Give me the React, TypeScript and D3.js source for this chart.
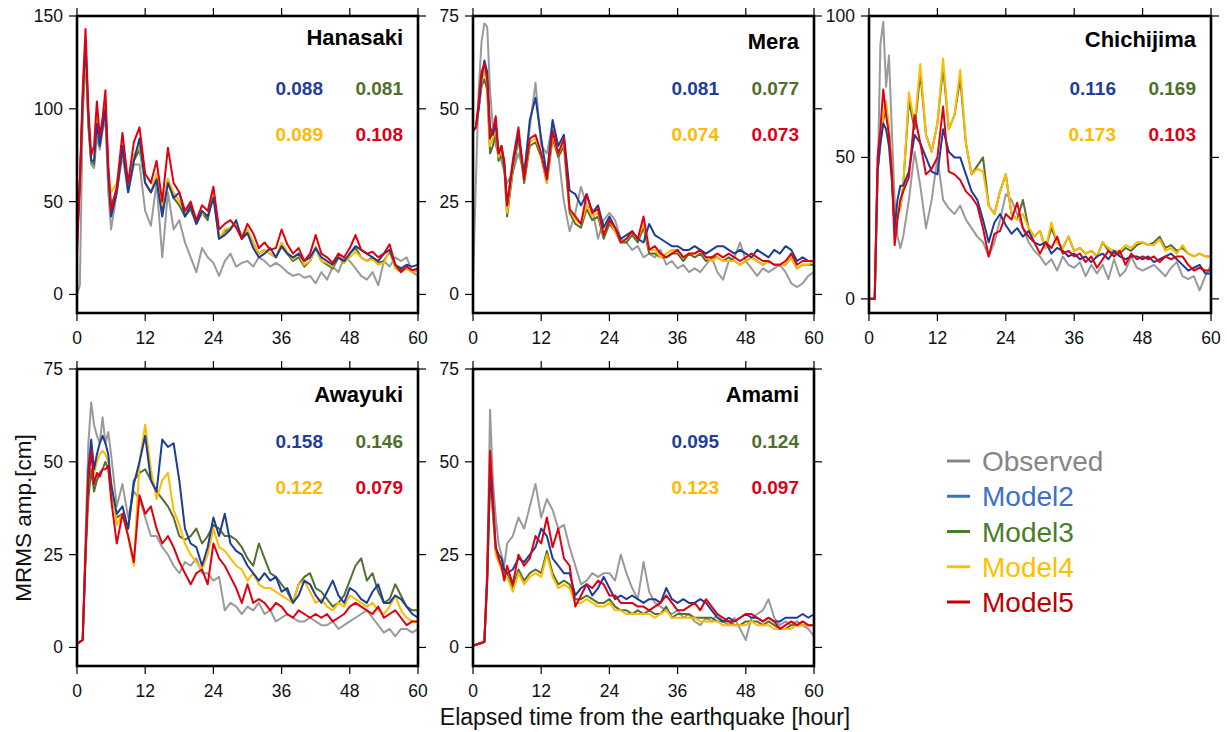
import React from "react";
import * as d3 from "d3";

// ---------- DATA ----------
const hours = [0, 0.5, 1, 1.5, 2, 2.5, 3, 3.5, 4, 4.5, 5, 5.5, 6,
  7, 8, 9, 10, 11, 12, 13, 14, 15, 16, 17, 18, 19, 20, 21, 22, 23, 24, 25, 26, 27, 28, 29, 30,
  31, 32, 33, 34, 35, 36, 37, 38, 39, 40, 41, 42, 43, 44, 45, 46, 47, 48, 49, 50, 51, 52, 53, 54,
  55, 56, 57, 58, 59, 60];

const xTicks = [0, 12, 24, 36, 48, 60];
const seriesNames = ["Observed", "Model2", "Model3", "Model4", "Model5"];
const stationNames = ["Hanasaki", "Mera", "Chichijima", "Awayuki", "Amami"];

// scores: [Model2, Model3, Model4, Model5]
const hanasakiScores = ["0.088", "0.081", "0.089", "0.108"];
const meraScores = ["0.081", "0.077", "0.074", "0.073"];
const chichijimaScores = ["0.116", "0.169", "0.173", "0.103"];
const awayukiScores = ["0.158", "0.146", "0.122", "0.079"];
const amamiScores = ["0.095", "0.124", "0.123", "0.097"];

const hanasakiTicks = [0, 50, 100, 150];
const meraTicks = [0, 25, 50, 75];
const chichijimaTicks = [0, 50, 100];
const awayukiTicks = [0, 25, 50, 75];
const amamiTicks = [0, 25, 50, 75];

// Hanasaki
const hanasakiObserved = [0, 5, 95, 130, 90, 70, 68, 85, 78, 88, 95, 55, 35,
  55, 75, 55, 70, 70, 45, 37, 60, 20, 55, 35, 40, 28, 20, 12, 25, 20, 17, 10, 18,
  22, 15, 17, 18, 15, 20, 18, 15, 17, 15, 12, 10, 11, 9, 10, 6, 12, 8, 15, 12,
  20, 18, 14, 10, 8, 12, 5, 18, 15, 20, 18, 20, 12, 10];
const hanasakiModel2 = [30, 60, 105, 137, 95, 72, 72, 92, 80, 90, 100, 65, 42,
  55, 80, 55, 72, 84, 60, 55, 62, 42, 60, 52, 55, 42, 48, 38, 45, 42, 52, 30, 32,
  35, 40, 30, 33, 25, 20, 22, 25, 20, 26, 22, 20, 22, 18, 20, 25, 20, 18, 16, 20,
  18, 22, 26, 24, 22, 20, 18, 22, 24, 16, 14, 16, 15, 16];
const hanasakiModel3 = [28, 60, 100, 132, 92, 72, 70, 95, 82, 92, 100, 65, 48,
  56, 78, 58, 72, 78, 60, 55, 62, 45, 62, 52, 48, 42, 46, 38, 44, 40, 55, 30, 34,
  36, 38, 30, 34, 28, 22, 24, 22, 20, 26, 22, 18, 20, 15, 18, 25, 18, 16, 14, 20,
  17, 22, 25, 20, 18, 20, 17, 18, 23, 15, 13, 14, 12, 13];
const hanasakiModel4 = [30, 60, 105, 130, 95, 72, 72, 95, 82, 92, 102, 66, 55,
  60, 80, 58, 75, 80, 60, 55, 65, 48, 62, 55, 50, 45, 48, 40, 44, 42, 56, 30, 35,
  36, 38, 32, 35, 28, 22, 24, 22, 20, 28, 23, 19, 22, 16, 18, 26, 18, 17, 15, 22,
  17, 20, 23, 20, 18, 19, 16, 17, 24, 14, 12, 14, 12, 13];
const hanasakiModel5 = [22, 60, 110, 143, 100, 75, 80, 104, 85, 95, 110, 70, 45,
  58, 87, 60, 82, 90, 65, 60, 72, 50, 79, 60, 55, 45, 50, 40, 48, 45, 58, 35, 38,
  40, 36, 30, 38, 33, 25, 28, 24, 25, 35, 27, 22, 25, 18, 22, 32, 22, 20, 17, 22,
  20, 25, 32, 24, 22, 23, 20, 22, 27, 16, 12, 15, 13, 14];

// Mera
const meraObserved = [3, 30, 55, 68, 73, 72, 55, 45, 40, 38, 36, 33, 30,
  33, 38, 33, 45, 57, 40, 38, 46, 38, 25, 17, 22, 29, 24, 23, 15, 20, 22, 20, 15,
  14, 12, 13, 10, 11, 10, 12, 8, 9, 7, 8, 6, 7, 6, 8, 10, 6, 4, 9, 10,
  14, 9, 7, 5, 7, 6, 7, 8, 6, 3, 2, 3, 5, 6];
const meraModel2 = [44, 45, 50, 58, 63, 60, 45, 43, 46, 38, 40, 35, 24,
  35, 43, 32, 47, 53, 42, 32, 47, 40, 43, 28, 27, 24, 27, 22, 24, 18, 21, 18, 15,
  16, 17, 15, 14, 19, 16, 15, 14, 13, 13, 12, 12, 13, 12, 11, 12, 13, 13, 12, 11,
  12, 11, 10, 12, 11, 10, 12, 11, 13, 12, 9, 10, 9, 9];
const meraModel3 = [44, 45, 50, 56, 58, 55, 38, 40, 44, 36, 38, 34, 21,
  33, 42, 30, 40, 41, 37, 30, 42, 37, 40, 22, 19, 18, 23, 20, 21, 15, 19, 17, 14,
  14, 16, 14, 18, 11, 11, 10, 10, 11, 11, 9, 11, 10, 11, 9, 10, 10, 9, 10, 9,
  8, 9, 10, 9, 8, 9, 8, 8, 8, 10, 7, 8, 8, 8];
const meraModel4 = [44, 45, 51, 57, 60, 57, 40, 42, 45, 37, 39, 35, 22,
  34, 43, 31, 41, 42, 38, 30, 43, 38, 41, 23, 20, 19, 24, 21, 22, 16, 20, 17, 14,
  15, 17, 15, 19, 12, 12, 10, 11, 12, 12, 10, 11, 11, 12, 10, 9, 10, 9, 9, 9,
  8, 9, 10, 9, 8, 9, 8, 8, 8, 10, 7, 8, 8, 9];
const meraModel5 = [44, 45, 52, 60, 62, 58, 42, 44, 48, 38, 40, 36, 24,
  36, 45, 31, 42, 43, 38, 31, 44, 38, 42, 23, 21, 19, 27, 22, 23, 16, 20, 18, 14,
  15, 17, 15, 21, 12, 13, 11, 10, 11, 12, 10, 11, 11, 12, 10, 10, 11, 10, 11, 10,
  9, 10, 11, 10, 9, 9, 8, 8, 9, 11, 8, 9, 9, 9];

// Chichijima
const chichijimaObserved = [0, 0, 0, 40, 90, 98, 75, 86, 60, 35, 22, 18, 22,
  35, 52, 40, 25, 35, 50, 35, 32, 30, 33, 28, 25, 22, 20, 15, 20, 28, 37, 35, 30,
  25, 20, 17, 15, 12, 14, 10, 15, 12, 11, 13, 8, 12, 9, 12, 7, 14, 8, 10, 15,
  11, 10, 11, 12, 10, 8, 11, 13, 8, 7, 8, 3, 8, 12];
const chichijimaModel2 = [0, 0, 0, 45, 55, 62, 60, 54, 42, 25, 35, 40, 40,
  45, 58, 55, 50, 45, 44, 60, 52, 50, 50, 44, 38, 35, 28, 20, 27, 30, 26, 23, 25,
  22, 24, 20, 19, 20, 16, 18, 17, 15, 16, 14, 15, 13, 15, 16, 14, 17, 15, 14, 15,
  15, 14, 15, 13, 14, 15, 16, 14, 12, 10, 11, 12, 9, 9];
const chichijimaModel3 = [0, 0, 0, 45, 55, 63, 68, 60, 45, 24, 30, 32, 40,
  70, 60, 80, 58, 52, 62, 82, 60, 65, 78, 55, 44, 47, 50, 33, 30, 38, 44, 30, 28,
  35, 25, 22, 24, 18, 25, 20, 18, 22, 17, 18, 16, 17, 15, 20, 17, 16, 16, 18, 17,
  19, 20, 19, 20, 22, 18, 19, 17, 18, 16, 15, 16, 15, 15];
const chichijimaModel4 = [0, 0, 0, 45, 56, 65, 70, 60, 45, 25, 30, 32, 40,
  73, 62, 83, 58, 52, 62, 85, 60, 65, 81, 55, 44, 46, 45, 33, 30, 38, 44, 30, 28,
  30, 25, 22, 24, 18, 27, 20, 18, 22, 17, 18, 16, 17, 15, 20, 18, 17, 17, 19, 18,
  20, 20, 19, 19, 21, 17, 18, 16, 19, 16, 15, 16, 15, 15];
const chichijimaModel5 = [0, 0, 0, 50, 60, 74, 65, 58, 45, 19, 28, 35, 38,
  43, 65, 55, 44, 46, 50, 68, 45, 44, 42, 38, 36, 33, 25, 15, 23, 24, 30, 28, 34,
  25, 22, 20, 16, 20, 18, 22, 16, 17, 15, 16, 13, 15, 11, 14, 17, 15, 17, 12, 16,
  14, 15, 14, 15, 13, 15, 14, 15, 15, 12, 10, 11, 10, 10];

// Awayuki
const awayukiObserved = [1, 1.5, 2, 30, 55, 66, 60, 57, 55, 62, 55, 58, 52,
  38, 44, 35, 42, 40, 35, 30, 30, 27, 25, 22, 20, 23, 22, 24, 20, 20, 18, 19, 10,
  12, 11, 9, 11, 10, 12, 9, 10, 7, 8, 9, 8, 7, 7, 8, 7, 6, 6, 7, 5,
  6, 7, 8, 9, 10, 8, 6, 4, 5, 3, 5, 5, 4, 5];
const awayukiModel2 = [1, 1.5, 2, 25, 48, 56, 48, 52, 55, 57, 55, 52, 44,
  36, 38, 32, 44, 50, 57, 45, 42, 56, 54, 55, 45, 32, 28, 27, 22, 27, 35, 30, 36,
  28, 26, 25, 22, 20, 18, 20, 18, 19, 15, 16, 12, 14, 18, 17, 14, 12, 15, 18, 14,
  12, 16, 15, 13, 12, 15, 17, 12, 12, 14, 13, 11, 9, 8];
const awayukiModel3 = [1, 1.5, 2, 25, 40, 48, 42, 45, 47, 48, 50, 48, 42,
  35, 36, 32, 45, 47, 48, 45, 42, 40, 38, 35, 30, 29, 30, 32, 28, 30, 33, 32, 30,
  30, 29, 27, 24, 22, 28, 24, 20, 19, 17, 15, 12, 17, 19, 20, 16, 15, 13, 11, 12,
  14, 18, 22, 24, 18, 20, 15, 12, 13, 17, 14, 11, 10, 10];
const awayukiModel4 = [1, 1.5, 2, 25, 45, 52, 47, 50, 52, 53, 52, 50, 45,
  33, 36, 30, 22, 50, 60, 48, 40, 45, 47, 37, 33, 28, 25, 23, 21, 25, 32, 27, 26,
  24, 22, 21, 18, 20, 17, 16, 16, 15, 14, 13, 12, 17, 18, 15, 12, 13, 11, 10, 12,
  11, 14, 13, 12, 11, 12, 10, 9, 11, 14, 10, 8, 7, 7];
const awayukiModel5 = [1, 1.5, 2, 25, 45, 53, 44, 47, 46, 48, 48, 49, 40,
  28, 36, 30, 23, 41, 36, 38, 32, 28, 30, 27, 23, 20, 17, 20, 21, 17, 28, 24, 22,
  19, 16, 12, 17, 12, 13, 12, 10, 12, 11, 9, 8, 10, 9, 8, 9, 8, 9, 7, 8,
  9, 11, 12, 11, 10, 9, 11, 8, 9, 10, 8, 6, 7, 7];

// Amami
const amamiObserved = [0.5, 0.8, 1, 1.3, 1.8, 20, 64, 45, 35, 28, 25, 22, 28,
  30, 35, 32, 38, 44, 35, 40, 37, 32, 33, 27, 22, 17, 18, 20, 19, 20, 20, 18, 25,
  20, 16, 13, 23, 15, 12, 11, 10, 9, 10, 8, 9, 7, 6, 8, 7, 9, 7, 6, 8,
  5, 2, 8, 9, 10, 13, 8, 6, 7, 6, 7, 6, 5, 3];
const amamiModel2 = [0.5, 0.7, 1, 1.2, 1.5, 18, 47, 38, 27, 25, 24, 21, 20,
  21, 24, 23, 25, 27, 32, 30, 24, 22, 20, 20, 14, 16, 17, 14, 16, 19, 16, 13, 14,
  13, 14, 13, 12, 13, 13, 12, 16, 13, 12, 13, 12, 12, 13, 12, 10, 8, 7, 8, 7,
  8, 9, 8, 8, 7, 8, 7, 7, 8, 8, 8, 9, 8, 9];
const amamiModel3 = [0.5, 0.7, 1, 1.2, 1.5, 18, 46, 36, 26, 24, 22, 20, 20,
  16, 21, 18, 20, 21, 20, 26, 20, 17, 18, 17, 13, 13, 14, 13, 12, 12, 13, 11, 10,
  10, 9, 10, 9, 10, 9, 9, 11, 8, 9, 9, 9, 8, 8, 8, 8, 7, 7, 7, 6,
  6, 7, 7, 7, 6, 7, 6, 5, 5, 6, 6, 6, 6, 6];
const amamiModel4 = [0.5, 0.7, 1, 1.2, 1.5, 18, 47, 37, 25, 23, 21, 19, 19,
  15, 20, 17, 19, 20, 19, 25, 19, 16, 17, 16, 12, 12, 13, 12, 11, 11, 12, 10, 10,
  9, 9, 9, 9, 9, 8, 9, 10, 8, 8, 8, 8, 8, 7, 7, 7, 7, 6, 6, 6,
  6, 6, 7, 6, 6, 6, 5, 5, 5, 5, 6, 6, 6, 6];
const amamiModel5 = [0.5, 0.7, 1, 1.2, 1.5, 20, 53, 40, 27, 24, 22, 18, 22,
  17, 25, 22, 24, 30, 28, 35, 27, 32, 24, 22, 11, 14, 17, 16, 18, 17, 14, 14, 12,
  12, 12, 11, 11, 10, 11, 12, 14, 12, 10, 10, 11, 12, 10, 13, 11, 9, 8, 7, 7,
  8, 9, 9, 8, 7, 8, 7, 5, 6, 7, 6, 7, 6, 6];

// ---------- STYLE / LAYOUT ----------
const lineColors = ["#9a9a9a", "#1c3d98", "#53702e", "#ffbb00", "#e00012"];
const scoreColors = ["#1f3d99", "#4f6f2a", "#ffb900", "#dd0018"];
const legendColors = ["#858585", "#3a6fce", "#4a7d2a", "#ffc000", "#c00000"];
const drawOrder = [0, 2, 3, 1, 4];

const panels = [
  { name: stationNames[0], x0: 77, x1: 418, y0: 16, y1: 313, dom: [-10, 150], ticks: hanasakiTicks, scores: hanasakiScores, titleDy: 29,
    series: [hanasakiObserved, hanasakiModel2, hanasakiModel3, hanasakiModel4, hanasakiModel5] },
  { name: stationNames[1], x0: 473, x1: 814, y0: 16, y1: 313, dom: [-5, 75], ticks: meraTicks, scores: meraScores, titleDy: 33,
    series: [meraObserved, meraModel2, meraModel3, meraModel4, meraModel5] },
  { name: stationNames[2], x0: 869, x1: 1211, y0: 16, y1: 313, dom: [-5, 100], ticks: chichijimaTicks, scores: chichijimaScores, titleDy: 31,
    series: [chichijimaObserved, chichijimaModel2, chichijimaModel3, chichijimaModel4, chichijimaModel5] },
  { name: stationNames[3], x0: 77, x1: 418, y0: 369, y1: 666, dom: [-5, 75], ticks: awayukiTicks, scores: awayukiScores, titleDy: 33,
    series: [awayukiObserved, awayukiModel2, awayukiModel3, awayukiModel4, awayukiModel5] },
  { name: stationNames[4], x0: 473, x1: 814, y0: 369, y1: 666, dom: [-5, 75], ticks: amamiTicks, scores: amamiScores, titleDy: 33,
    series: [amamiObserved, amamiModel2, amamiModel3, amamiModel4, amamiModel5] },
];

const FONT = "'Liberation Sans', Arial, Helvetica, sans-serif";

function Panel({ p, idx }: { p: any; idx: number }) {
  const x = d3.scaleLinear().domain([0, 60]).range([p.x0, p.x1]);
  const y = d3.scaleLinear().domain(p.dom).range([p.y1, p.y0]);
  const line = d3.line<number>().x((_, i) => x(hours[i])).y((v) => y(v));
  const tl = 8;
  return (
    <g>
      <defs>
        <clipPath id={`clip${idx}`}>
          <rect x={p.x0} y={p.y0} width={p.x1 - p.x0} height={p.y1 - p.y0} />
        </clipPath>
      </defs>
      <g clipPath={`url(#clip${idx})`}>
        {drawOrder.map((si) => (
          <path key={si} d={line(p.series[si]) || ""} fill="none" stroke={lineColors[si]} strokeWidth={2} strokeLinejoin="round" />
        ))}
      </g>
      {p.ticks.map((t: number) => (
        <g key={"y" + t}>
          <line x1={p.x0 - tl} x2={p.x0} y1={y(t)} y2={y(t)} stroke="#000" strokeWidth={1.2} />
          <line x1={p.x1} x2={p.x1 + tl} y1={y(t)} y2={y(t)} stroke="#000" strokeWidth={1.2} />
          <text x={p.x0 - 14} y={y(t) + 6} textAnchor="end" fontSize={17.5} fill="#111" fontFamily={FONT}>{t}</text>
        </g>
      ))}
      {xTicks.map((t) => (
        <g key={"x" + t}>
          <line x1={x(t)} x2={x(t)} y1={p.y0 - tl} y2={p.y0} stroke="#000" strokeWidth={1.2} />
          <line x1={x(t)} x2={x(t)} y1={p.y1} y2={p.y1 + tl} stroke="#000" strokeWidth={1.2} />
          <text x={x(t)} y={p.y1 + 31} textAnchor="middle" fontSize={17.5} fill="#111" fontFamily={FONT}>{t}</text>
        </g>
      ))}
      <rect x={p.x0} y={p.y0} width={p.x1 - p.x0} height={p.y1 - p.y0} fill="none" stroke="#000" strokeWidth={2.6} />
      <text x={p.x1 - 15} y={p.y0 + p.titleDy} textAnchor="end" fontSize={22} fontWeight="bold" fill="#000" fontFamily={FONT}>{p.name}</text>
      <text x={p.x1 - 95} y={p.y0 + 79} textAnchor="end" fontSize={19} fontWeight="bold" fill={scoreColors[0]} fontFamily={FONT}>{p.scores[0]}</text>
      <text x={p.x1 - 15} y={p.y0 + 79} textAnchor="end" fontSize={19} fontWeight="bold" fill={scoreColors[1]} fontFamily={FONT}>{p.scores[1]}</text>
      <text x={p.x1 - 95} y={p.y0 + 125} textAnchor="end" fontSize={19} fontWeight="bold" fill={scoreColors[2]} fontFamily={FONT}>{p.scores[2]}</text>
      <text x={p.x1 - 15} y={p.y0 + 125} textAnchor="end" fontSize={19} fontWeight="bold" fill={scoreColors[3]} fontFamily={FONT}>{p.scores[3]}</text>
    </g>
  );
}

export default function App() {
  return (
    <svg width={1227} height={732} style={{ position: "absolute", left: 0, top: 0, background: "#fff" }}>
      <rect x={0} y={0} width={1227} height={732} fill="#fff" />
      {panels.map((p, i) => (
        <Panel key={p.name} p={p} idx={i} />
      ))}
      {seriesNames.map((s, i) => (
        <g key={s}>
          <line x1={947} x2={970} y1={461 + i * 35.25} y2={461 + i * 35.25} stroke={legendColors[i]} strokeWidth={3} />
          <text x={982} y={471 + i * 35.25} fontSize={28} fill={legendColors[i]} fontFamily={FONT}>{s}</text>
        </g>
      ))}
      <text x={645} y={725} textAnchor="middle" fontSize={23} fill="#111" fontFamily={FONT}>Elapsed time from the earthquake [hour]</text>
      <text transform="translate(31,518) rotate(-90)" textAnchor="middle" fontSize={22.5} fill="#111" fontFamily={FONT}>MRMS amp.[cm]</text>
    </svg>
  );
}
